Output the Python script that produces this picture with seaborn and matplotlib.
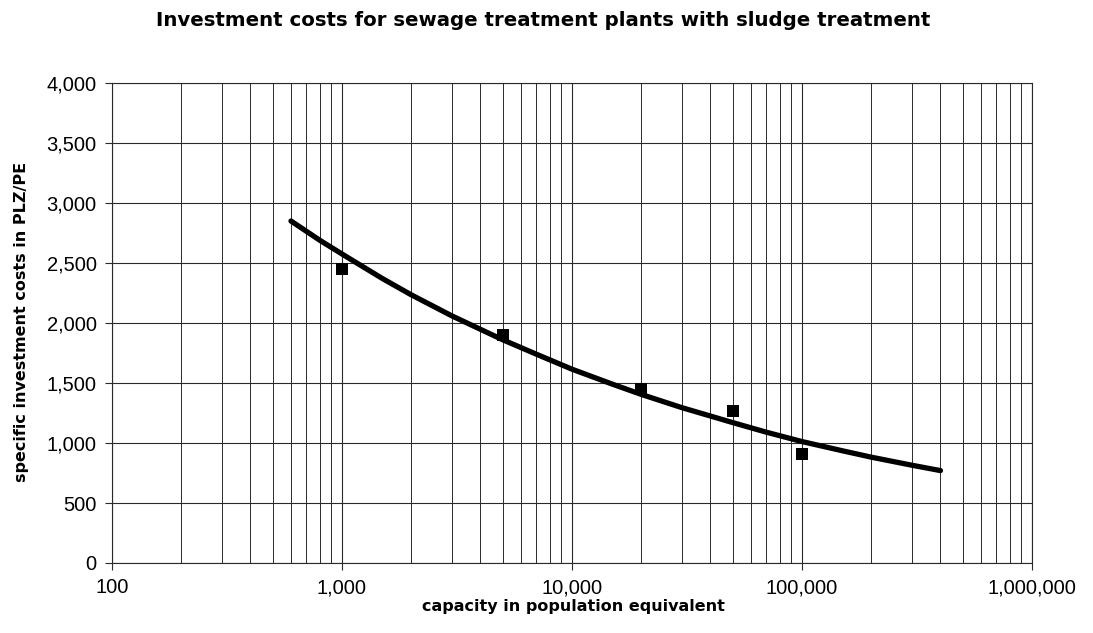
import matplotlib
matplotlib.use("Agg")
import matplotlib.pyplot as plt
import matplotlib.ticker as mticker
import seaborn as sns
import pandas as pd

# Measured data points
capacity_pts = [1000, 5000, 20000, 50000, 100000]
cost_pts = [2450, 1900, 1450, 1270, 905]

# Trend curve
capacity_curve = [600, 800, 1000, 1500, 2000, 3000, 5000, 7000, 10000, 15000,
                  20000, 30000, 50000, 70000, 100000, 150000, 200000, 300000, 400000]
cost_curve = [2850, 2690, 2575, 2370, 2235, 2060, 1860, 1740, 1615, 1490,
              1405, 1295, 1170, 1090, 1012, 935, 882, 815, 770]

x_ticks = [100, 1000, 10000, 100000, 1000000]
y_ticks = [0, 500, 1000, 1500, 2000, 2500, 3000, 3500, 4000]

title = "Investment costs for sewage treatment plants with sludge treatment"
xlabel = "capacity in population equivalent"
ylabel = "specific investment costs in PLZ/PE"

sns.set_style("white")
plt.rcParams["font.family"] = ["Liberation Sans", "DejaVu Sans"]
plt.rcParams["text.color"] = "black"
plt.rcParams["xtick.labelcolor"] = "black"
plt.rcParams["ytick.labelcolor"] = "black"

W, H = 1093, 633
fig = plt.figure(figsize=(W / 100, H / 100), dpi=100)
left, right, top, bottom = 112, 1032, 83, 563
ax = fig.add_axes([left / W, 1 - bottom / H, (right - left) / W, (bottom - top) / H])

df_curve = pd.DataFrame({"x": capacity_curve, "y": cost_curve})
df_pts = pd.DataFrame({"x": capacity_pts, "y": cost_pts})

ax.set_xscale("log")
sns.lineplot(data=df_curve, x="x", y="y", ax=ax, color="black", linewidth=3.8,
             zorder=3, sort=True)
sns.scatterplot(data=df_pts, x="x", y="y", ax=ax, color="black", marker="s",
                s=65, edgecolor="black", linewidth=0, zorder=4)

ax.set_xlim(100, 1000000)
ax.set_ylim(0, 4000)
ax.set_yticks(y_ticks)
ax.set_xticks(x_ticks)
ax.xaxis.set_major_formatter(mticker.FuncFormatter(lambda v, p: f"{int(round(v)):,}"))
ax.yaxis.set_major_formatter(mticker.FuncFormatter(lambda v, p: f"{int(round(v)):,}"))
ax.xaxis.set_minor_locator(mticker.LogLocator(base=10, subs=range(2, 10)))
ax.xaxis.set_minor_formatter(mticker.NullFormatter())

ax.grid(True, which="major", axis="both", color="#2a2a2a", linewidth=0.8)
ax.grid(True, which="minor", axis="x", color="#2a2a2a", linewidth=0.7)
ax.tick_params(axis="both", which="major", direction="out", length=5, width=0.8,
               color="#2a2a2a", labelsize=14.5, pad=6, bottom=True, left=True,
               labelcolor="black")
ax.tick_params(axis="x", which="minor", length=0)
for s in ax.spines.values():
    s.set_color("#2a2a2a")
    s.set_linewidth(0.8)

ax.set_xlabel("")
ax.set_ylabel("")
fig.text(573 / W, 1 - 606 / H, xlabel, ha="center", va="center", color="black",
         fontsize=11.5, fontweight="bold", family=["DejaVu Sans"])
fig.text(22 / W, 1 - 322 / H, ylabel, ha="center", va="center", color="black",
         rotation=90, fontsize=11.5, fontweight="bold", family=["DejaVu Sans"])
fig.text(543 / W, 1 - 21 / H, title, ha="center", va="center", color="black",
         fontsize=14.2, fontweight="bold", family=["DejaVu Sans"])

fig.savefig("out.png", dpi=100)
